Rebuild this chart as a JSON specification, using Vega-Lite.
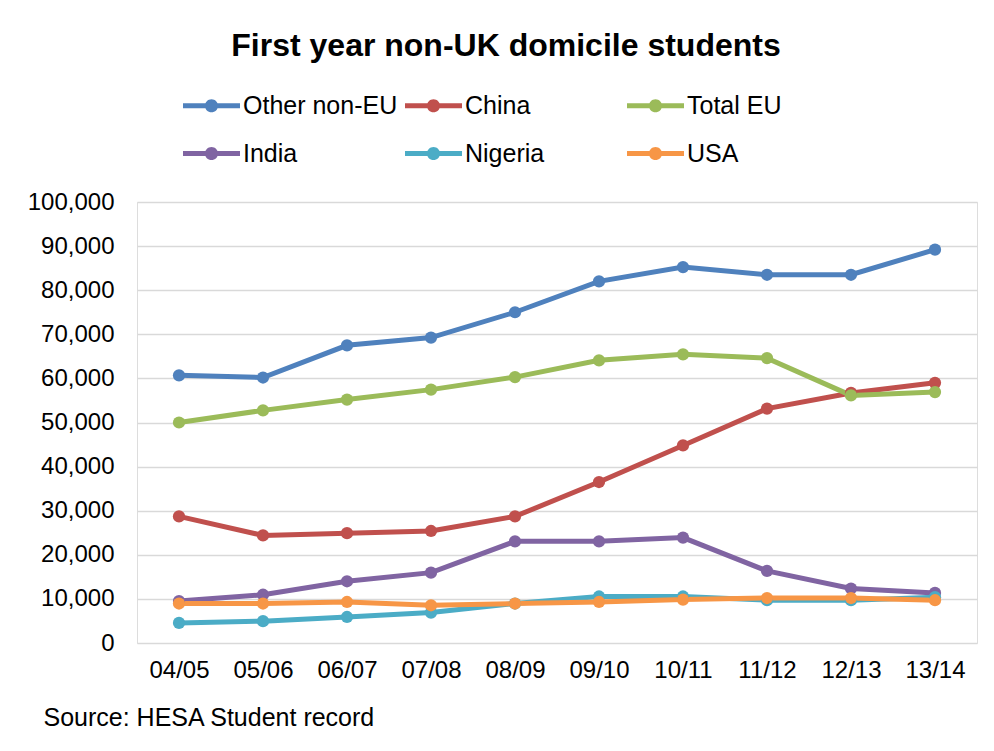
{
  "$schema": "https://vega.github.io/schema/vega-lite/v6.json",
  "width": 840,
  "height": 441,
  "autosize": {"type": "none"},
  "padding": {"left": 137, "top": 202, "right": 17, "bottom": 108},
  "background": "white",
  "title": {"text": "First year non-UK domicile students", "frame": "group", "anchor": "middle", "dx": -51, "offset": -11, "baseline": "alphabetic", "fontSize": 32, "fontWeight": "bold", "font": "Liberation Sans", "color": "black"},
  "data": {"values": [
    {"year": "04/05", "series": "Other non-EU", "students": 60700},
    {"year": "05/06", "series": "Other non-EU", "students": 60200},
    {"year": "06/07", "series": "Other non-EU", "students": 67500},
    {"year": "07/08", "series": "Other non-EU", "students": 69250},
    {"year": "08/09", "series": "Other non-EU", "students": 75000},
    {"year": "09/10", "series": "Other non-EU", "students": 82000},
    {"year": "10/11", "series": "Other non-EU", "students": 85250},
    {"year": "11/12", "series": "Other non-EU", "students": 83500},
    {"year": "12/13", "series": "Other non-EU", "students": 83500},
    {"year": "13/14", "series": "Other non-EU", "students": 89200},
    {"year": "04/05", "series": "China", "students": 28700},
    {"year": "05/06", "series": "China", "students": 24400},
    {"year": "06/07", "series": "China", "students": 24900},
    {"year": "07/08", "series": "China", "students": 25400},
    {"year": "08/09", "series": "China", "students": 28700},
    {"year": "09/10", "series": "China", "students": 36500},
    {"year": "10/11", "series": "China", "students": 44800},
    {"year": "11/12", "series": "China", "students": 53150},
    {"year": "12/13", "series": "China", "students": 56700},
    {"year": "13/14", "series": "China", "students": 59000},
    {"year": "04/05", "series": "Total EU", "students": 50000},
    {"year": "05/06", "series": "Total EU", "students": 52750},
    {"year": "06/07", "series": "Total EU", "students": 55200},
    {"year": "07/08", "series": "Total EU", "students": 57450},
    {"year": "08/09", "series": "Total EU", "students": 60300},
    {"year": "09/10", "series": "Total EU", "students": 64100},
    {"year": "10/11", "series": "Total EU", "students": 65450},
    {"year": "11/12", "series": "Total EU", "students": 64600},
    {"year": "12/13", "series": "Total EU", "students": 56150},
    {"year": "13/14", "series": "Total EU", "students": 56900},
    {"year": "04/05", "series": "India", "students": 9500},
    {"year": "05/06", "series": "India", "students": 10950},
    {"year": "06/07", "series": "India", "students": 14000},
    {"year": "07/08", "series": "India", "students": 15950},
    {"year": "08/09", "series": "India", "students": 23050},
    {"year": "09/10", "series": "India", "students": 23050},
    {"year": "10/11", "series": "India", "students": 23900},
    {"year": "11/12", "series": "India", "students": 16350},
    {"year": "12/13", "series": "India", "students": 12350},
    {"year": "13/14", "series": "India", "students": 11350},
    {"year": "04/05", "series": "Nigeria", "students": 4550},
    {"year": "05/06", "series": "Nigeria", "students": 4950},
    {"year": "06/07", "series": "Nigeria", "students": 5900},
    {"year": "07/08", "series": "Nigeria", "students": 6900},
    {"year": "08/09", "series": "Nigeria", "students": 8950},
    {"year": "09/10", "series": "Nigeria", "students": 10550},
    {"year": "10/11", "series": "Nigeria", "students": 10550},
    {"year": "11/12", "series": "Nigeria", "students": 9700},
    {"year": "12/13", "series": "Nigeria", "students": 9700},
    {"year": "13/14", "series": "Nigeria", "students": 10400},
    {"year": "04/05", "series": "USA", "students": 8950},
    {"year": "05/06", "series": "USA", "students": 8950},
    {"year": "06/07", "series": "USA", "students": 9300},
    {"year": "07/08", "series": "USA", "students": 8550},
    {"year": "08/09", "series": "USA", "students": 8950},
    {"year": "09/10", "series": "USA", "students": 9300},
    {"year": "10/11", "series": "USA", "students": 9850},
    {"year": "11/12", "series": "USA", "students": 10200},
    {"year": "12/13", "series": "USA", "students": 10200},
    {"year": "13/14", "series": "USA", "students": 9700}
  ]},
  "encoding": {
    "x": {"field": "year", "type": "ordinal", "sort": null, "scale": {"padding": 0.5},
      "axis": {"labelAngle": 0, "domain": false, "ticks": false, "grid": false, "labelPadding": 15, "labelFontSize": 24, "labelFont": "Liberation Sans", "labelColor": "black",
        "title": "Source: HESA Student record", "titleAnchor": "start", "titleAlign": "left", "titleX": -94, "titleY": 74, "titleBaseline": "middle", "titleFontSize": 25, "titleFontWeight": "normal", "titleFont": "Liberation Sans", "titleColor": "black"}},
    "y": {"field": "students", "type": "quantitative", "scale": {"domain": [0, 100000]},
      "axis": {"title": null, "values": [0, 10000, 20000, 30000, 40000, 50000, 60000, 70000, 80000, 90000, 100000], "format": ",.0f", "domain": false, "ticks": false, "labelPadding": 23, "labelFontSize": 24, "labelFont": "Liberation Sans", "labelColor": "black", "gridColor": "#D9D9D9", "gridWidth": 1.5}},
    "color": {"field": "series", "type": "nominal",
      "scale": {"domain": ["Other non-EU", "China", "Total EU", "India", "Nigeria", "USA"], "range": ["#4F81BD", "#C0504D", "#9BBB59", "#8064A2", "#4BACC6", "#F79646"]},
      "legend": {"orient": "none", "legendX": 46, "legendY": -125, "direction": "horizontal", "columns": 3, "gridAlign": "all", "title": null, "padding": 0,
        "symbolType": "M-1,-0.09L1,-0.09L1,0.09L-1,0.09Z M0.23,0A0.23,0.23,0,1,1,-0.23,0A0.23,0.23,0,1,1,0.23,0Z",
        "symbolSize": 3249, "symbolStrokeWidth": 0, "labelFontSize": 25, "labelFont": "Liberation Sans", "labelColor": "black", "labelOffset": 3, "labelLimit": 400, "columnPadding": 7, "rowPadding": 6,
        "encode": {"symbols": {"update": {"fill": {"scale": "color", "field": "value"}, "stroke": {"value": "transparent"}, "opacity": {"value": 1}}}}}}
  },
  "layer": [
    {"mark": {"type": "line", "strokeWidth": 5}},
    {"mark": {"type": "point", "filled": true, "size": 150, "opacity": 1}}
  ]
}
